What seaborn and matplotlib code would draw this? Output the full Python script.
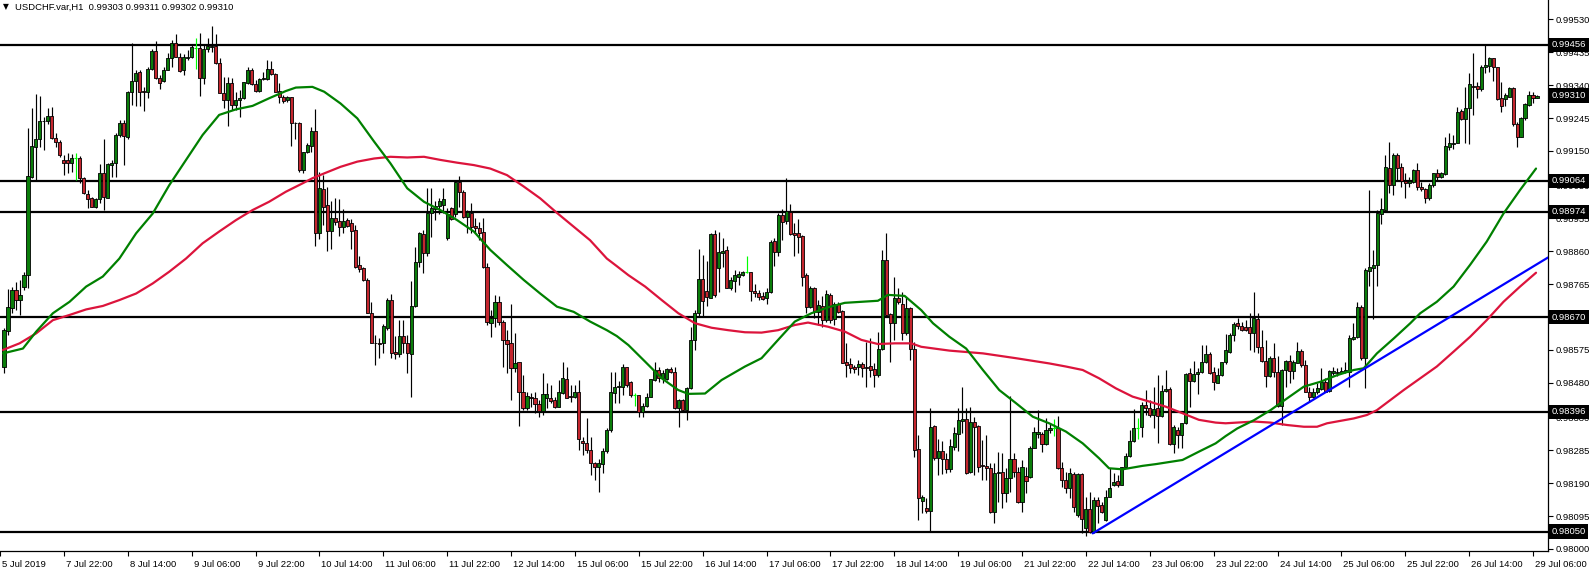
import matplotlib
matplotlib.use("Agg")
import matplotlib.pyplot as plt
import matplotlib.transforms as mtransforms
from matplotlib.patches import Rectangle
from matplotlib.collections import LineCollection, PatchCollection
import numpy as np
import pandas as pd
import seaborn as sns

sns.set_theme(style="white")
plt.rcParams['font.family'] = ['Liberation Sans', 'DejaVu Sans']

# ---------------- data (prices in points of 0.00001 above 0.98000) ----------------
BASE = 0.98000
PT = 0.00001

open_pts = [527,631,695,748,719,758,791,1075,1162,1183,
1236,1236,1251,1186,1175,1124,1124,1116,1130,1130,
1073,1025,1013,989,1010,1085,1015,1109,1114,1196,
1231,1191,1319,1352,1377,1323,1321,1388,1439,1360,
1353,1385,1417,1461,1422,1385,1417,1420,1448,1446,
1361,1443,1449,1453,1405,1318,1297,1345,1284,1297,
1302,1345,1384,1343,1323,1357,1357,1388,1372,1323,
1307,1297,1305,1232,1232,1095,1146,1164,1207,912,
1039,994,919,955,947,929,950,941,921,820,
811,777,683,596,596,594,637,719,570,562,
615,594,562,702,828,910,856,971,982,992,
995,897,984,969,1061,1030,960,971,933,926,
915,815,654,666,714,657,605,596,522,539,
454,408,440,437,419,399,435,437,430,411,
451,490,442,438,452,313,305,286,247,238,
244,283,344,451,469,467,525,483,445,445,
397,413,440,488,517,493,490,519,510,408,
430,401,464,605,681,779,745,726,909,811,
854,864,755,775,787,791,799,799,746,738,
731,724,743,890,859,965,948,974,912,912,
904,791,698,755,685,702,661,735,663,708,
687,541,533,527,527,533,527,528,520,502,
579,835,678,653,725,709,625,695,579,288,
139,117,110,355,262,283,259,230,295,332,
369,375,223,368,355,243,241,233,108,218,
223,162,204,259,223,137,211,209,293,331,
331,303,344,348,348,235,199,175,216,98,
216,60,115,50,141,127,84,151,186,196,
186,236,268,312,348,351,416,406,387,406,
384,456,462,303,345,329,363,507,486,505,
510,541,563,510,480,502,539,570,618,652,
644,642,642,625,664,584,544,500,551,512,
413,517,543,514,538,572,531,454,440,452,
462,483,456,507,507,509,512,512,606,611,
700,551,804,811,820,969,979,1100,1051,1138,
1104,1064,1056,1061,1095,1047,1039,1013,1052,1085,
1076,1083,1162,1170,1174,1266,1241,1273,1338,1337,
1328,1391,1396,1417,1391,1302,1299,1307,1331,1228,
1191,1244,1283,1311,1303]

high_pts = [637,750,758,772,777,801,1215,1273,1314,1308,
1249,1273,1276,1201,1181,1138,1143,1140,1143,1135,
1075,1037,1016,1013,1112,1184,1114,1124,1201,1239,
1239,1323,1463,1384,1384,1335,1393,1443,1467,1369,
1393,1432,1470,1487,1432,1429,1441,1456,1475,1492,
1456,1475,1511,1489,1417,1364,1364,1360,1321,1326,
1350,1393,1390,1355,1362,1379,1412,1410,1374,1345,
1312,1308,1307,1234,1234,1148,1174,1218,1270,1090,
1080,1045,1006,1013,1010,981,955,952,936,846,
815,782,714,618,609,650,724,736,615,661,
661,618,774,871,917,921,1042,1042,1004,1013,
1044,984,989,1066,1077,1037,979,1000,955,945,
955,825,690,734,731,661,632,709,623,541,
502,454,450,454,430,509,478,474,440,488,
541,527,474,474,488,324,377,324,252,259,
291,348,512,512,485,534,527,485,450,445,
423,450,492,541,527,517,522,527,527,432,
432,469,642,690,866,850,832,912,921,917,
897,875,787,806,804,804,846,801,764,748,
743,753,893,897,970,981,1071,998,941,952,
907,796,760,758,719,731,748,738,714,714,
690,594,551,531,546,541,599,609,536,628,
864,912,681,787,753,743,729,698,599,329,
156,146,406,358,317,313,278,319,353,406,
469,406,409,382,358,315,329,247,247,281,
276,233,442,276,238,257,238,296,351,401,
339,377,363,374,384,252,223,233,223,218,
218,151,165,151,151,137,170,233,218,214,
238,276,344,403,377,425,459,430,469,502,
474,517,469,358,353,365,507,522,544,522,
589,589,570,527,522,541,620,623,657,666,
657,661,681,743,683,632,603,558,594,556,
519,546,560,546,599,579,546,469,464,478,
522,493,517,527,522,527,541,618,652,714,
705,811,1038,864,979,1013,1138,1177,1143,1143,
1114,1085,1075,1097,1114,1061,1042,1056,1087,1097,
1090,1191,1201,1196,1276,1270,1335,1374,1434,1350,
1398,1456,1422,1419,1393,1350,1316,1335,1335,1234,
1249,1287,1324,1321,1311]

low_pts = [509,618,681,690,676,748,753,1071,1066,1162,
1152,1229,1184,1162,1133,1080,1085,1090,1066,1056,
1025,984,987,986,1000,979,1013,1075,1075,1191,
1109,1183,1282,1280,1280,1266,1304,1384,1357,1328,
1350,1384,1393,1422,1379,1369,1414,1417,1388,1308,
1342,1437,1437,1400,1316,1273,1222,1268,1268,1249,
1300,1342,1340,1321,1321,1355,1355,1369,1321,1289,
1289,1291,1164,1183,1090,1085,1143,1148,875,895,
936,862,868,936,904,912,931,866,813,801,
775,681,596,531,551,565,632,553,549,555,
565,507,440,700,815,798,846,902,950,969,
971,894,950,960,989,955,912,912,912,893,
811,647,613,642,647,527,507,430,512,355,
401,401,411,392,382,387,406,421,406,409,
449,435,425,435,286,271,276,214,200,165,
218,278,339,421,421,445,469,440,413,382,
382,411,438,486,483,479,488,507,403,352,
397,372,461,576,671,671,702,724,729,743,
815,753,748,743,763,788,797,717,729,719,
719,708,740,817,846,894,939,907,846,854,
760,681,695,668,647,640,657,652,647,681,
536,498,507,509,502,498,469,498,469,498,
574,671,541,604,709,604,618,546,267,84,
105,105,50,257,214,216,218,223,286,284,
334,216,218,214,223,200,200,105,76,137,
117,137,165,209,132,108,161,204,291,320,
281,300,334,326,230,180,161,146,108,93,
45,36,45,45,74,103,82,149,183,180,
185,233,267,310,319,324,387,382,348,305,
382,454,300,276,291,291,361,411,483,449,
507,536,505,459,479,500,534,565,601,635,
630,630,575,570,567,541,469,498,498,411,
358,469,478,490,536,527,452,425,435,449,
459,452,454,502,500,507,507,469,603,608,
546,464,760,663,760,939,974,1027,1022,1066,
1045,1013,1045,1056,1037,1035,999,1008,1047,1066,
1073,1080,1152,1155,1172,1239,1172,1170,1254,1302,
1324,1374,1379,1353,1297,1263,1280,1305,1222,1162,
1189,1239,1280,1289,1302]

close_pts = [632,698,748,719,734,791,1077,1164,1184,1236,
1237,1252,1186,1177,1138,1116,1114,1130,1130,1073,
1027,1011,989,1010,1085,1016,1111,1114,1196,1232,
1193,1319,1353,1374,1321,1319,1388,1439,1361,1345,
1385,1417,1461,1422,1382,1422,1422,1449,1448,1361,
1443,1453,1453,1403,1318,1297,1345,1284,1297,1302,
1348,1384,1342,1323,1359,1361,1388,1371,1321,1307,
1294,1305,1232,1230,1095,1146,1167,1207,912,1042,
989,919,955,945,931,947,934,919,815,809,
777,683,596,595,592,644,719,567,562,615,
594,565,702,828,912,856,971,984,992,1005,
1011,969,953,1061,1030,958,974,931,926,912,
815,657,666,714,657,605,592,522,536,452,
408,442,435,419,399,449,449,428,411,454,
493,437,438,452,317,305,286,249,238,247,
283,345,452,469,470,525,474,445,445,397,
413,440,490,517,493,509,519,510,408,430,
401,464,605,683,779,717,727,909,734,857,
861,755,777,791,794,799,799,746,740,729,
723,743,888,859,965,945,977,909,907,902,
787,700,755,685,704,661,736,661,708,685,
538,531,522,519,533,522,522,517,502,579,
835,676,654,725,714,625,695,579,286,148,
149,110,351,262,283,259,230,297,334,372,
375,218,368,353,238,240,233,108,220,223,
162,204,259,223,135,238,197,293,337,337,
303,344,349,348,235,199,175,218,120,216,
86,115,50,141,125,108,151,177,194,186,
236,268,312,348,348,416,406,387,403,384,
457,462,303,351,329,363,505,486,505,512,
541,563,509,481,502,539,575,618,650,644,
632,632,625,666,584,544,500,551,512,413,
517,543,514,539,572,531,454,440,454,466,
483,454,514,514,512,515,517,608,611,700,
551,806,814,820,971,981,1104,1051,1138,1100,
1064,1056,1064,1095,1047,1039,1013,1052,1085,1076,
1085,1164,1172,1174,1263,1242,1273,1342,1335,1328,
1391,1398,1419,1391,1299,1280,1311,1331,1228,1191,
1244,1285,1311,1302,1310]

# moving averages (bar position, price points)
green_ma_bar = [-0.25, 4.75, 8.08, 12.25, 16.42, 20.58, 24.75, 28.9, 33.1, 37.25, 41.4, 45.6, 49.75,
                53.9, 58.1, 62.25, 66.4, 70.6, 73.1, 77.25, 80.2, 84.3, 88.5, 92.7, 96.8, 101, 105.2,
                109.3, 113.5, 117.7, 121.8, 126, 130.2, 134.3, 138.5, 142.7, 146.8, 151, 153.5, 156.4,
                160.6, 164.75, 168.9, 171.4, 175.6, 179.75, 185.6, 189.75, 193.9, 198.1, 202.25, 206.4,
                210.6, 214.75, 218.9, 221.4, 225.6, 229.75, 232.7, 236.8, 241, 245.2, 249.3, 253.5,
                257.7, 261.8, 266, 270.2, 274.3, 276.8, 280.2, 285.2, 288.5, 295.2, 299.3, 303.5, 306,
                308.9, 313.1, 317.25, 321.4, 325.6, 329.75, 333.9, 338.1, 340.6, 343.9, 348.1, 352.25,
                354.75, 358.9, 363.1, 367.25, 371.4, 375.6, 379.75, 383.75]
green_ma_pts = [565, 579, 628, 681, 714, 758, 787, 839, 912, 969, 1051, 1124, 1196,
                1254, 1270, 1280, 1302, 1323, 1333, 1335, 1321, 1287, 1244, 1177, 1114, 1042, 1003,
                979, 950, 917, 864, 820, 777, 738, 700, 685, 657, 632, 615, 589,
                541, 493, 459, 448, 449, 488, 527, 551, 604, 657, 681, 698,
                711, 714, 717, 734, 731, 690, 652, 613, 579, 517, 459, 421,
                382, 363, 339, 305, 262, 233, 230, 240, 245, 257, 281, 305, 326,
                348, 372, 401, 435, 469, 483, 502, 517, 522, 565, 608, 652,
                681, 714, 758, 821, 888, 969, 1037, 1099]

red_ma_bar = [-0.25, 3.9, 8.08, 12.25, 16.42, 20.58, 24.75, 28.9, 33.1, 37.25, 41.4, 45.6, 49.75,
              53.9, 58.1, 62.25, 66.4, 70.6, 74.75, 77.25, 80.2, 84.3, 88.5, 92.7, 96.8, 101, 105.2,
              109.3, 113.5, 117.7, 121.8, 126, 130.2, 134.3, 138.5, 142.7, 146.8, 151, 153.5, 156.4,
              160.6, 164.75, 168.9, 173.1, 177.25, 181.4, 185.6, 189.75, 193.9, 198.1, 201.4, 206.4,
              210.6, 214.75, 218.9, 223.1, 227.25, 229.75, 236.8, 245.2, 253.5, 261.8, 266, 270.2,
              274.3, 278.5, 282.7, 286.8, 291, 295.2, 299.3, 303.5, 306, 313.1, 317.25, 321.4, 325.6,
              328.9, 331.4, 338.1, 341.4, 343.9, 350.6, 354.75, 358.9, 363.1, 367.25, 371.4, 375.6,
              379.75, 383.75]
red_ma_pts = [575, 594, 623, 661, 676, 692, 702, 719, 738, 767, 801, 839, 883,
              917, 950, 979, 1003, 1032, 1056, 1071, 1085, 1104, 1119, 1128, 1133, 1131, 1133,
              1124, 1116, 1109, 1099, 1080, 1047, 1013, 971, 931, 892, 839, 817, 791,
              758, 719, 681, 652, 639, 632, 626, 625, 632, 647, 654, 642,
              628, 604, 592, 594, 594, 584, 573, 565, 551, 536, 527, 517,
              493, 464, 440, 426, 411, 392, 373, 365, 363, 368, 365, 358, 353,
              353, 363, 377, 387, 401, 459, 493, 527, 570, 613, 661, 714,
              758, 798]

trend_bar = [272.7, 386.75]
trend_pts = [45, 842]

levels = [0.99456, 0.99064, 0.98974, 0.98670, 0.98396, 0.98050]
last_price = 0.99310

ytick_values = [0.98000, 0.98095, 0.98190, 0.98285, 0.98380, 0.98480, 0.98575, 0.98670, 0.98765,
                0.98860, 0.98955, 0.99050, 0.99150, 0.99245, 0.99340, 0.99435, 0.99530]
xtick_labels = ['5 Jul 2019', '7 Jul 22:00', '8 Jul 14:00', '9 Jul 06:00', '9 Jul 22:00',
                '10 Jul 14:00', '11 Jul 06:00', '11 Jul 22:00', '12 Jul 14:00', '15 Jul 06:00',
                '15 Jul 22:00', '16 Jul 14:00', '17 Jul 06:00', '17 Jul 22:00', '18 Jul 14:00',
                '19 Jul 06:00', '21 Jul 22:00', '22 Jul 14:00', '23 Jul 06:00', '23 Jul 22:00',
                '24 Jul 14:00', '25 Jul 06:00', '25 Jul 22:00', '26 Jul 14:00', '29 Jul 06:00']
xtick_bars = [16 * k - 1 for k in range(len(xtick_labels))]

title = 'USDCHF.var,H1  0.99303 0.99311 0.99302 0.99310'

# ---------------- build frame ----------------
def to_price(p):
    return BASE + np.asarray(p, dtype=float) * PT

df = pd.DataFrame({
    'bar': np.arange(len(close_pts)),
    'open': to_price(open_pts), 'high': to_price(high_pts),
    'low': to_price(low_pts), 'close': to_price(close_pts),
})
ma_green = pd.DataFrame({'bar': green_ma_bar, 'price': to_price(green_ma_pts)})
ma_red = pd.DataFrame({'bar': red_ma_bar, 'price': to_price(red_ma_pts)})
trend = pd.DataFrame({'bar': trend_bar, 'price': to_price(trend_pts)})

BULL = '#0a7d0a'
BEAR = '#c4262e'
DOJI = '#00ff00'

fig = plt.figure(figsize=(15.89, 5.70), dpi=100)
fig.patch.set_facecolor('white')
ax = fig.add_axes([0, 19 / 570, 1548 / 1589, 551 / 570])
ax.set_facecolor('white')

# wicks
segs, cols = [], []
for r in df.itertuples():
    segs.append([(r.bar, r.low), (r.bar, r.high)])
    cols.append(DOJI if r.open == r.close else 'black')
ax.add_collection(LineCollection(segs, colors=cols, linewidths=0.85, zorder=3))

# bodies
rects, fcs = [], []
w = 0.78
doji_segs = []
for r in df.itertuples():
    if r.open == r.close:
        doji_segs.append([(r.bar - w / 2, r.open), (r.bar + w / 2, r.open)])
        continue
    lo, hi = min(r.open, r.close), max(r.open, r.close)
    rects.append(Rectangle((r.bar - w / 2, lo), w, hi - lo))
    fcs.append(BULL if r.close > r.open else BEAR)
ax.add_collection(PatchCollection(rects, facecolors=fcs, edgecolors='black',
                                  linewidths=0.6, zorder=4))
ax.add_collection(LineCollection(doji_segs, colors=DOJI, linewidths=0.85, zorder=4))

# horizontal levels
for lv in levels:
    ax.axhline(lv, color='black', lw=1.6, zorder=2)

# moving averages and trend line
sns.lineplot(data=ma_red, x='bar', y='price', color='#dc143c', lw=1.6, ax=ax,
             estimator=None, sort=True, zorder=5)
sns.lineplot(data=ma_green, x='bar', y='price', color='#008000', lw=1.6, ax=ax,
             estimator=None, sort=True, zorder=5)
sns.lineplot(data=trend, x='bar', y='price', color='#0000ff', lw=1.6, ax=ax,
             estimator=None, sort=True, zorder=6)

ax.set_xlim(-0.25, 386.75)
ax.set_ylim(BASE - 6 * PT, BASE + 1586 * PT)
ax.set_xlabel('')
ax.set_ylabel('')

# axes styling
for s in ['top', 'left']:
    ax.spines[s].set_visible(False)
for s in ['right', 'bottom']:
    ax.spines[s].set_visible(True)
    ax.spines[s].set_color('black')
    ax.spines[s].set_linewidth(0.9)

# tick labels; a tick whose value carries a boxed level label shows only the box
ytick_labels = ['' if any(abs(v - lv) < 1e-7 for lv in levels) else f'{v:.5f}'
                for v in ytick_values]
ax.yaxis.tick_right()
ax.set_yticks(ytick_values)
ax.set_yticklabels(ytick_labels)
ax.set_xticks(xtick_bars)
ax.set_xticklabels(xtick_labels, ha='left')
ax.tick_params(axis='y', which='major', direction='out', length=3.5, width=0.8,
               labelsize=6.8, pad=2, colors='black', right=True, left=False)
ax.tick_params(axis='x', which='major', direction='out', length=3.5, width=0.8,
               labelsize=6.8, pad=3, colors='black', bottom=True)
offset = mtransforms.ScaledTranslation(2 / 100, 0, fig.dpi_scale_trans)
for lab in ax.get_xticklabels():
    lab.set_transform(lab.get_transform() + offset)
ax.grid(False)

# boxed price labels on the right scale
trans = mtransforms.blended_transform_factory(ax.transAxes, ax.transData)
for lv in levels + [last_price]:
    ax.text(1.0 + 3.5 / 1548, lv, f'{lv:.5f}', transform=trans, ha='left', va='center',
            fontsize=6.8, color='white', zorder=20, clip_on=False,
            bbox=dict(boxstyle='square,pad=0.28', fc='black', ec='none'))

# title
fig.text(3 / 1589, 1 - 7 / 570, '\u25bc', fontsize=5.5, color='black', va='center', ha='left',
         family=['DejaVu Sans'])
fig.text(15 / 1589, 1 - 7 / 570, title, fontsize=6.8, color='black', va='center', ha='left')

fig.savefig('out.png', dpi=100, facecolor='white')
